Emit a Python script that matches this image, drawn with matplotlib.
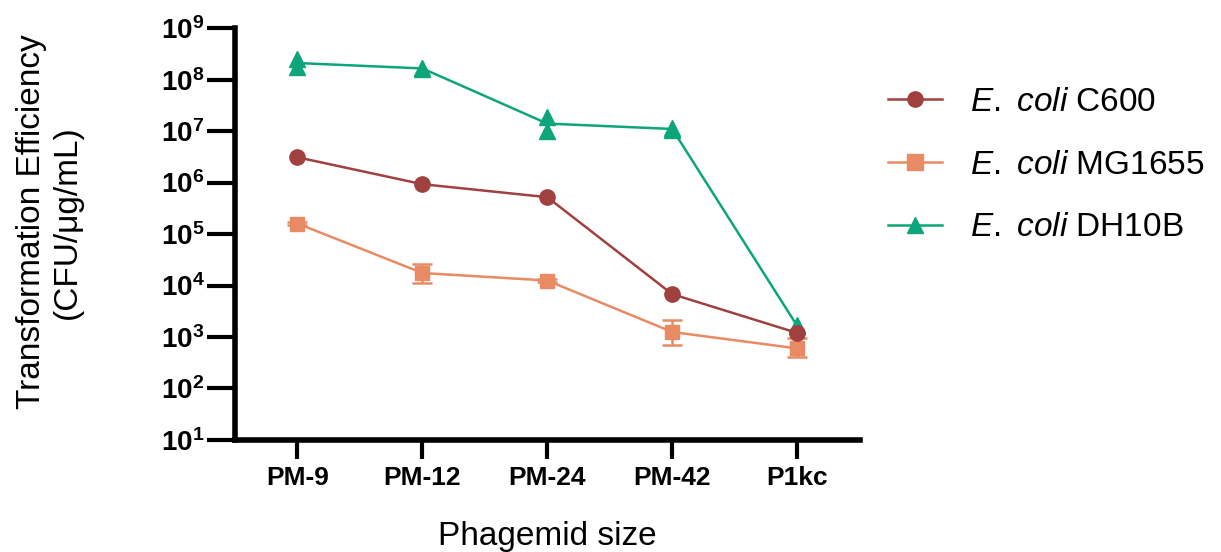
import numpy as np
from matplotlib import pyplot as plt
from matplotlib.lines import Line2D
from matplotlib.ticker import FixedLocator, FuncFormatter, NullLocator

plt.rcParams['font.family'] = ['Liberation Sans', 'DejaVu Sans']
plt.rcParams['mathtext.fontset'] = 'custom'
plt.rcParams['mathtext.rm'] = 'Liberation Sans'
plt.rcParams['mathtext.it'] = 'Liberation Sans:italic'
plt.rcParams['mathtext.bf'] = 'Liberation Sans:bold'

# data
categories = ['PM-9', 'PM-12', 'PM-24', 'PM-42', 'P1kc']

c600_mean = [3.1e6, 9.3e5, 5.2e5, 6.8e3, 1.2e3]

mg1655_mean = [1.6e5, 1.75e4, 1.25e4, 1.25e3, 6.0e2]
mg1655_low = [1.5e5, 1.1e4, 1.15e4, 0.7e3, 4.0e2]
mg1655_high = [1.7e5, 2.6e4, 1.35e4, 2.1e3, 9.5e2]

dh10b_mean = [2.1e8, 1.65e8, 1.4e7, 1.1e7, 1.65e3]
dh10b_low = [1.75e8, 1.6e8, 1.02e7, 1.05e7, 1.6e3]
dh10b_high = [2.5e8, 1.7e8, 1.85e7, 1.15e7, 1.7e3]

labels = [r'$\mathit{E.}$ $\mathit{coli}$ C600', r'$\mathit{E.}$ $\mathit{coli}$ MG1655',
          r'$\mathit{E.}$ $\mathit{coli}$ DH10B']
colors = ['#A0413F', '#E88A63', '#0DA57A']
markers = ['o', 's', '^']

x = np.arange(len(categories))

fig = plt.figure(figsize=(12.21, 5.52), dpi=100)
ax = fig.add_axes([0.1925, 0.203, 0.5115, 0.746])

# MG1655 with error bars
mg_err = [np.array(mg1655_mean) - np.array(mg1655_low), np.array(mg1655_high) - np.array(mg1655_mean)]
ax.errorbar(x, mg1655_mean, yerr=mg_err, color=colors[1], marker='s', markersize=10, lw=1.8,
            capsize=7, capthick=1.8, elinewidth=1.8, zorder=2)

# DH10B: line through mean, replicate triangles
ax.plot(x, dh10b_mean, color=colors[2], lw=1.8, zorder=3)
ax.plot(x, dh10b_low, color=colors[2], lw=0, marker='^', markersize=11, zorder=3)
ax.plot(x, dh10b_high, color=colors[2], lw=0, marker='^', markersize=11, zorder=3)

# C600
ax.plot(x, c600_mean, color=colors[0], lw=1.8, marker='o', markersize=11, zorder=4)

ax.set_yscale('log')
ax.set_ylim(10, 1e9)
ax.set_xlim(-0.5, 4.5)
ax.yaxis.set_major_locator(FixedLocator([10.0 ** k for k in range(1, 10)]))
ax.yaxis.set_minor_locator(NullLocator())
ax.yaxis.set_major_formatter(FuncFormatter(lambda v, p: r'$\mathbf{10^{%d}}$' % round(np.log10(v))))
ax.set_xticks(x)
ax.set_xticklabels(categories, fontsize=19, fontweight='bold')

for s in ['top', 'right']:
    ax.spines[s].set_visible(False)
for s in ['left', 'bottom']:
    ax.spines[s].set_linewidth(4)
ax.tick_params(axis='both', width=3, direction='out')
ax.tick_params(axis='y', length=20, labelsize=20, pad=2)
ax.tick_params(axis='x', length=14, pad=5)

ax.set_ylabel('Transformation Efficiency\n(CFU/μg/mL)', fontsize=24, labelpad=56, linespacing=1.2)
ax.yaxis.label.set_y(0.53)
ax.set_xlabel('Phagemid size', fontsize=24, labelpad=22)

handles = [Line2D([], [], color=c, lw=1.8, marker=m, markersize=11) for c, m in zip(colors, markers)]
fig.legend(handles, labels, loc='upper left',
           bbox_to_anchor=(0.703, 0.897), frameon=False, fontsize=24,
           handlelength=1.6, handletextpad=0.85, labelspacing=0.95)

fig.savefig('out.png', dpi=100)
